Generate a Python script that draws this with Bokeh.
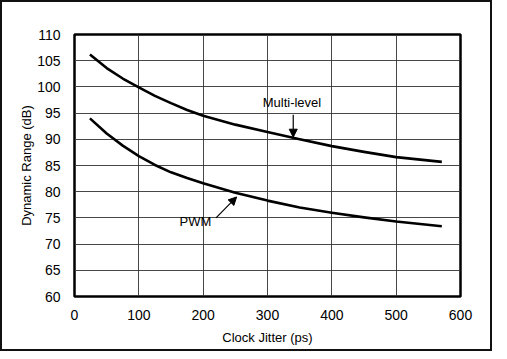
from bokeh.plotting import figure
from bokeh.models import Arrow, NormalHead, Label, FixedTicker, Range1d
from bokeh.embed import file_html
from bokeh.resources import INLINE

jitter = [24, 50, 75, 100, 125, 150, 175, 200, 250, 300, 350, 400, 450, 500, 571]
multi_level = [106.2, 103.6, 101.6, 99.9, 98.3, 96.9, 95.6, 94.5, 92.8, 91.4, 90.0, 88.7, 87.6, 86.6, 85.7]
pwm = [94.0, 91.1, 88.8, 86.8, 85.1, 83.7, 82.6, 81.6, 79.8, 78.3, 77.0, 76.0, 75.1, 74.3, 73.4]
x_ticks = [0, 100, 200, 300, 400, 500, 600]
y_ticks = [60, 65, 70, 75, 80, 85, 90, 95, 100, 105, 110]

FONT = "Liberation Sans"

p = figure(width=492, height=351, output_backend="svg", toolbar_location=None,
           x_range=Range1d(0, 600), y_range=Range1d(60, 110),
           min_border_left=72, min_border_top=32, min_border_right=34, min_border_bottom=57)
p.styles = {"border": "2px solid #111111"}
p.background_fill_color = "white"
p.border_fill_color = "white"
p.outline_line_color = "black"
p.outline_line_width = 2.5

for ax in (p.xaxis[0], p.yaxis[0]):
    ax.axis_line_color = None
    ax.major_tick_line_color = None
    ax.minor_tick_line_color = None
    ax.major_label_text_font = FONT
    ax.major_label_text_font_size = "14px"
    ax.major_label_text_color = "black"
    ax.axis_label_text_font = FONT
    ax.axis_label_text_font_size = "13px"
    ax.axis_label_text_font_style = "normal"
    ax.axis_label_text_color = "black"

p.xaxis.ticker = FixedTicker(ticks=x_ticks)
p.yaxis.ticker = FixedTicker(ticks=y_ticks)
p.xaxis.major_label_standoff = 7
p.yaxis.major_label_standoff = 8
p.xaxis.axis_label = "Clock Jitter (ps)"
p.yaxis.axis_label = "Dynamic Range (dB)"
p.xaxis.axis_label_standoff = 7
p.yaxis.axis_label_standoff = 0

p.xgrid.ticker = FixedTicker(ticks=x_ticks)
p.ygrid.ticker = FixedTicker(ticks=y_ticks)
for g in (p.xgrid[0], p.ygrid[0]):
    g.grid_line_color = "#333333"
    g.grid_line_width = 1
    g.grid_line_alpha = 0.9

p.line(jitter, multi_level, line_color="black", line_width=2.6, line_join="round")
p.line(jitter, pwm, line_color="black", line_width=2.6, line_join="round")

p.add_layout(Label(x=338, y=97.1, text="Multi-level", text_font=FONT, text_font_size="13px",
                   text_align="center", text_baseline="middle", text_color="black"))
p.add_layout(Arrow(end=NormalHead(size=8, fill_color="black", line_color="black"),
                   x_start=340, y_start=94.7, x_end=340, y_end=90.4,
                   line_color="black", line_width=1.2))

p.add_layout(Label(x=188, y=74.4, text="PWM", text_font=FONT, text_font_size="13px",
                   text_align="center", text_baseline="middle", text_color="black"))
p.add_layout(Arrow(end=NormalHead(size=8, fill_color="black", line_color="black"),
                   x_start=220, y_start=75.0, x_end=252, y_end=79.0,
                   line_color="black", line_width=1.2))

open("out.html", "w").write(file_html(p, INLINE))
